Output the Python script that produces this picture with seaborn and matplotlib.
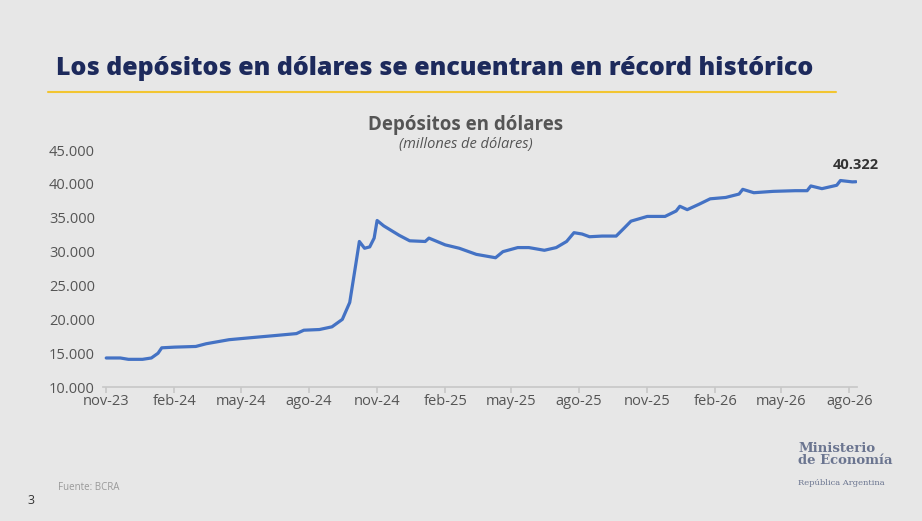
import matplotlib
matplotlib.use("Agg")
import matplotlib.pyplot as plt
import seaborn as sns
import pandas as pd

fechas = ["2023-11-01", "2023-11-20", "2023-12-01", "2023-12-20", "2024-01-01", "2024-01-10",
          "2024-01-15", "2024-02-01", "2024-03-01", "2024-03-15", "2024-04-15", "2024-05-15",
          "2024-06-15", "2024-07-15", "2024-07-25", "2024-08-15", "2024-09-01", "2024-09-15",
          "2024-09-25", "2024-10-03", "2024-10-08", "2024-10-15", "2024-10-22", "2024-10-28",
          "2024-11-01", "2024-11-10", "2024-12-01", "2024-12-15", "2025-01-05", "2025-01-10",
          "2025-02-01", "2025-02-20", "2025-03-15", "2025-04-10", "2025-04-20", "2025-05-10",
          "2025-05-25", "2025-06-15", "2025-07-01", "2025-07-15", "2025-07-25", "2025-08-05",
          "2025-08-15", "2025-09-01", "2025-09-20", "2025-10-01", "2025-10-10", "2025-11-01",
          "2025-11-25", "2025-12-10", "2025-12-15", "2025-12-25", "2026-01-10", "2026-01-25",
          "2026-02-15", "2026-03-05", "2026-03-10", "2026-03-25", "2026-04-20", "2026-05-20",
          "2026-06-05", "2026-06-10", "2026-06-25", "2026-07-15", "2026-07-20", "2026-08-05",
          "2026-08-10"]
depositos = [14300, 14300, 14100, 14100, 14300, 15000,
             15800, 15900, 16000, 16400, 17000, 17300,
             17600, 17900, 18400, 18500, 18900, 20000,
             22500, 28000, 31500, 30500, 30700, 32000,
             34600, 33800, 32400, 31600, 31500, 32000,
             31000, 30500, 29600, 29100, 30000, 30600,
             30600, 30200, 30600, 31500, 32800, 32600,
             32200, 32300, 32300, 33500, 34500, 35200,
             35200, 36000, 36700, 36200, 37000, 37800,
             38000, 38500, 39200, 38700, 38900, 39000,
             39000, 39700, 39300, 39800, 40500, 40300,
             40322]
etiquetas_x = ["nov-23", "feb-24", "may-24", "ago-24", "nov-24", "feb-25", "may-25",
               "ago-25", "nov-25", "feb-26", "may-26", "ago-26"]
ticks_y = [10000, 15000, 20000, 25000, 30000, 35000, 40000, 45000]

df = pd.DataFrame({"fecha": pd.to_datetime(fechas), "depositos": depositos})

bg = "#e7e7e7"
sns.set_theme(style="white")
plt.rcParams["font.family"] = ["Open Sans", "DejaVu Sans"]

fig = plt.figure(figsize=(9.22, 5.21), dpi=100, facecolor=bg)
ax = fig.add_axes([0.112, 0.257, 0.818, 0.455], facecolor=bg)

sns.lineplot(data=df, x="fecha", y="depositos", ax=ax, color="#4472c4", linewidth=2.3)

ax.set_ylim(10000, 45000)
ax.set_yticks(ticks_y)
ax.set_yticklabels([f"{v:,}".replace(",", ".") for v in ticks_y], fontsize=10.5, color="#555555")
tick_dates = pd.date_range("2023-11-01", periods=len(etiquetas_x), freq="3MS")
ax.set_xticks(tick_dates)
ax.set_xticklabels(etiquetas_x, fontsize=10.5, color="#555555")
ax.set_xlim(pd.Timestamp("2023-10-28"), pd.Timestamp("2026-08-12"))
ax.set_xlabel("")
ax.set_ylabel("")
for s in ["top", "right", "left"]:
    ax.spines[s].set_visible(False)
ax.spines["bottom"].set_color("#c8c8c8")
ax.tick_params(axis="x", length=4, color="#c8c8c8", pad=1, bottom=True)
ax.tick_params(axis="y", length=0, pad=6)

ax.annotate("40.322", (df["fecha"].iloc[-1], depositos[-1]), xytext=(0, 7),
            textcoords="offset points", ha="center", va="bottom",
            fontsize=10.5, fontweight="bold", color="#333333")

fig.text(0.061, 0.868, "Los depósitos en dólares se encuentran en récord histórico",
         fontsize=18, fontweight="heavy", color="#1d2a5c", va="center")
fig.add_artist(plt.Line2D([0.052, 0.907], [0.823, 0.823], color="#f2c531", linewidth=1.5))
fig.text(0.505, 0.760, "Depósitos en dólares", fontsize=13.5, fontweight="bold",
         color="#555555", ha="center", va="center")
fig.text(0.505, 0.722, "(millones de dólares)", fontsize=10.5, style="italic",
         color="#555555", ha="center", va="center")
fig.text(0.063, 0.065, "Fuente: BCRA", fontsize=7, color="#999999", va="center")
fig.text(0.030, 0.040, "3", fontsize=9, color="#333333", va="center")
fig.text(0.866, 0.128, "Ministerio\nde Economía", fontsize=9.5, family="DejaVu Serif",
         fontweight="bold", color="#6b7590", ha="left", va="center", linespacing=0.95)
fig.text(0.866, 0.072, "República Argentina", fontsize=6, family="DejaVu Serif",
         color="#6b7590", ha="left", va="center")

fig.savefig("out.png", dpi=100, facecolor=bg)
